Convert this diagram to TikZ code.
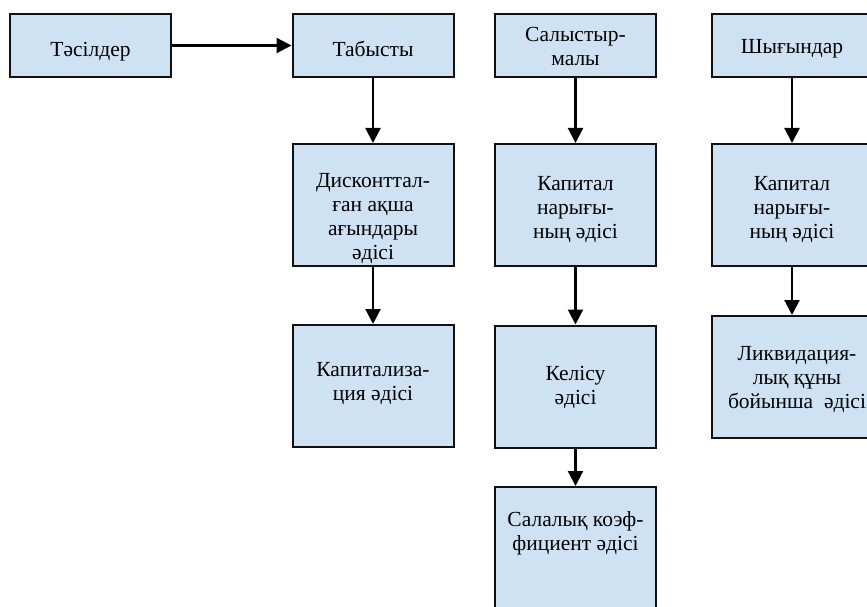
\documentclass[tikz,border=0pt]{standalone}
\usepackage{fontspec}
\setmainfont{Liberation Serif}
\usetikzlibrary{arrows.meta}

\definecolor{boxfill}{HTML}{CFE2F3}
\definecolor{boxline}{HTML}{111111}

\tikzset{
  box/.style={draw=boxline, line width=2pt, fill=boxfill, rectangle,
    inner sep=0pt, minimum width=161pt},
  shortbox/.style={box, minimum height=63pt},
  tallbox/.style={box, minimum height=122pt},
  lbl/.style={align=center, inner sep=0pt,
    font=\fontsize{21.5}{24}\selectfont},
  link/.style={line width=2.2pt, -{Triangle[length=15pt, width=15pt]}},
}

\begin{document}
\begin{tikzpicture}[x=1pt, y=-1pt]
  \useasboundingbox (0,0) rectangle (867,607);
  \clip (0,0) rectangle (867,607);

  % top row
  \node[shortbox] (tas) at (90.5,45.5) {};
  \node[lbl] (tasT) at (90.5,52) {Тәсілдер};
  \node[shortbox] (tab) at (373,45.5) {};
  \node[lbl] (tabT) at (373,49) {Табысты};
  \node[shortbox] (sal) at (575.5,45.5) {};
  \node[lbl] (salT) at (575.5,46) {Салыстыр-\\малы};
  \node[shortbox] (shy) at (792,45.5) {};
  \node[lbl] (shyT) at (792,49) {Шығындар};

  % income column
  \node[tallbox] (disk) at (373,205) {};
  \node[lbl] (diskT) at (373,219) {Дисконттал-\\ған ақша\\ағындары\\әдісі};
  \node[tallbox] (kap) at (373,386) {};
  \node[lbl] (kapT) at (373,384) {Капитализа-\\ция әдісі};

  % comparative column
  \node[tallbox] (mkt) at (575.5,205) {};
  \node[lbl] (mktT) at (575.5,210) {Капитал\\нарығы-\\ның әдісі};
  \node[tallbox] (kel) at (575.5,386.5) {};
  \node[lbl] (kelT) at (575.5,387) {Келісу\\әдісі};
  \node[box, minimum height=140pt] (sala) at (575.5,557) {};
  \node[lbl] (salaT) at (575.5,533) {Салалық коэф-\\фициент әдісі};

  % cost column
  \node[tallbox] (mkt2) at (792,205) {};
  \node[lbl] (mkt2T) at (792,210) {Капитал\\нарығы-\\ның әдісі};
  \node[tallbox] (liq) at (792,377) {};
  \node[lbl] (liqT) at (797,380) {Ликвидация-\\лық құны\\бойынша\ \ әдісі};

  % connectors
  \draw[link] (tas) -- (tab);
  \draw[link] (tab) -- (disk);
  \draw[link] (disk) -- (kap);
  \draw[link] (sal) -- (mkt);
  \draw[link] (mkt) -- (kel);
  \draw[link] (kel) -- (sala);
  \draw[link] (shy) -- (mkt2);
  \draw[link] (mkt2) -- (liq);
\end{tikzpicture}
\end{document}
